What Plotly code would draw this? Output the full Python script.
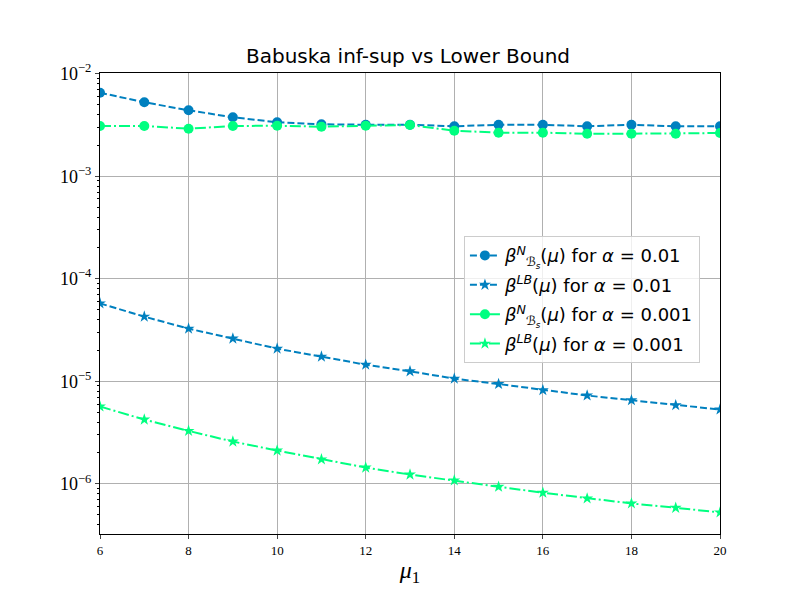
import plotly.graph_objects as go

mu1 = [6, 7, 8, 9, 10, 11, 12, 13, 14, 15, 16, 17, 18, 19, 20]

babuska_a01 = [6.53e-3, 5.27e-3, 4.40e-3, 3.76e-3, 3.36e-3, 3.21e-3, 3.18e-3, 3.18e-3,
               3.07e-3, 3.18e-3, 3.18e-3, 3.07e-3, 3.18e-3, 3.07e-3, 3.07e-3]
lb_a01 = [5.75e-5, 4.27e-5, 3.26e-5, 2.61e-5, 2.08e-5, 1.74e-5, 1.45e-5, 1.25e-5,
          1.06e-5, 9.4e-6, 8.2e-6, 7.26e-6, 6.53e-6, 5.84e-6, 5.3e-6]
babuska_a001 = [3.09e-3, 3.09e-3, 2.91e-3, 3.09e-3, 3.11e-3, 3.04e-3, 3.11e-3, 3.16e-3,
                2.78e-3, 2.66e-3, 2.66e-3, 2.60e-3, 2.60e-3, 2.60e-3, 2.64e-3]
lb_a001 = [5.67e-6, 4.23e-6, 3.28e-6, 2.58e-6, 2.11e-6, 1.73e-6, 1.44e-6, 1.23e-6,
           1.08e-6, 9.35e-7, 8.17e-7, 7.19e-7, 6.43e-7, 5.83e-7, 5.25e-7]

x_ticks = [6, 8, 10, 12, 14, 16, 18, 20]
y_ticks = [1e-6, 1e-5, 1e-4, 1e-3, 1e-2]
y_tick_text = ["10<sup>−6</sup>", "10<sup>−5</sup>", "10<sup>−4</sup>", "10<sup>−3</sup>", "10<sup>−2</sup>"]
minor_y = [k * 10.0 ** n for n in range(-7, -1) for k in range(2, 10)]

BLUE = "#0080bf"
GREEN = "#00ff80"

name_b = "<i>β</i><sup><i>N</i></sup><sub><i>ℬ<sub>s</sub></i></sub>(<i>μ</i>) for <i>α</i> = 0.01"
name_lb = "<i>β</i><sup><i>LB</i></sup>(<i>μ</i>) for <i>α</i> = 0.01"
name_b2 = "<i>β</i><sup><i>N</i></sup><sub><i>ℬ<sub>s</sub></i></sub>(<i>μ</i>) for <i>α</i> = 0.001"
name_lb2 = "<i>β</i><sup><i>LB</i></sup>(<i>μ</i>) for <i>α</i> = 0.001"

DASH = "7px,3px"
DASHDOT = "11px,3px,2px,3px"

fig = go.Figure()
fig.add_trace(go.Scatter(x=mu1, y=babuska_a01, mode="lines+markers", name=name_b, legendgroup="a",
                         line=dict(color=BLUE, width=2, dash=DASH),
                         marker=dict(symbol="circle", size=10, color=BLUE)))
fig.add_trace(go.Scatter(x=mu1, y=lb_a01, mode="lines+markers", name=name_lb, legendgroup="b",
                         line=dict(color=BLUE, width=2, dash=DASH),
                         marker=dict(symbol="star", size=9, color=BLUE)))
fig.add_trace(go.Scatter(x=mu1, y=babuska_a001, mode="lines+markers", name=name_b2, legendgroup="c",
                         line=dict(color=GREEN, width=2, dash=DASHDOT),
                         marker=dict(symbol="circle", size=10, color=GREEN)))
fig.add_trace(go.Scatter(x=mu1, y=lb_a001, mode="lines+markers", name=name_lb2, legendgroup="d",
                         line=dict(color=GREEN, width=2, dash=DASHDOT),
                         marker=dict(symbol="star", size=9, color=GREEN)))

fig.update_layout(
    width=800, height=600,
    paper_bgcolor="white", plot_bgcolor="white",
    margin=dict(l=92, r=88, t=65, b=74),
    title=dict(text="Babuska inf-sup vs Lower Bound", x=0.5, xanchor="center",
               y=1 - 48 / 600, yanchor="middle",
               font=dict(family="DejaVu Sans", size=20, color="black")),
    legend=dict(x=0.587, y=0.646, xanchor="left", yanchor="top",
                bgcolor="rgba(255,255,255,0.8)", bordercolor="#cccccc", borderwidth=1,
                font=dict(family="DejaVu Sans", size=18, color="black"),
                tracegroupgap=3),
    showlegend=True,
)
fig.update_xaxes(range=[6, 20], tickvals=x_ticks, ticks="outside", ticklen=4, automargin=False,
                 showline=True, linecolor="black", linewidth=1.2, mirror=True,
                 showgrid=True, gridcolor="#b0b0b0", gridwidth=1, zeroline=False,
                 tickfont=dict(family="Liberation Serif", size=13, color="black"),
                 title=dict(text="<i>μ</i><sub>1</sub>", standoff=4,
                            font=dict(family="Liberation Serif", size=24, color="black")))
fig.update_yaxes(type="log", range=[-6.49, -1.993], tickvals=y_ticks, ticktext=y_tick_text,
                 ticks="outside", ticklen=4, automargin=False,
                 showline=True, linecolor="black", linewidth=1.2, mirror=True,
                 showgrid=True, gridcolor="#b0b0b0", gridwidth=1, zeroline=False,
                 minor=dict(tickmode="array", tickvals=minor_y, ticks="outside", ticklen=2,
                            showgrid=False, tickcolor="black"),
                 tickfont=dict(family="Liberation Serif", size=18, color="black"))

fig.write_html("out.html")
